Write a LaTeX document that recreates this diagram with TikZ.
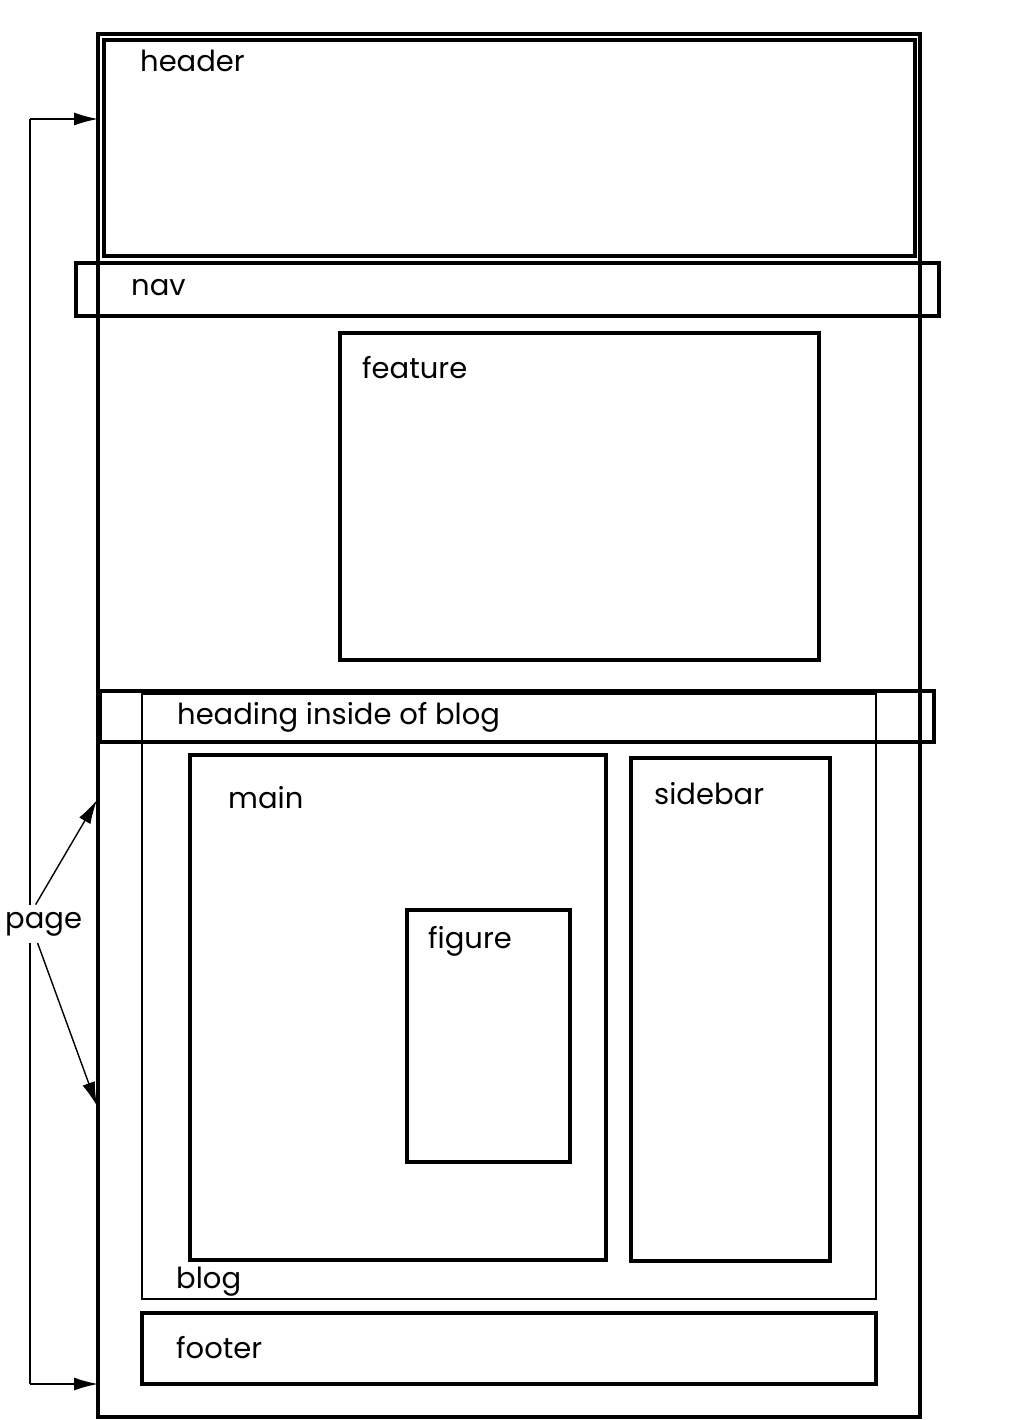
\documentclass[tikz,border=0pt]{standalone}
\usepackage{fontspec}
\setmainfont{Poppins}
\usetikzlibrary{arrows.meta}
\tikzset{
  box/.style={line width=3.5pt},
  thinbox/.style={line width=2.2pt},
  lbl/.style={anchor=base west, inner sep=0pt, font=\fontsize{29}{32}\selectfont},
  pointer/.style={line width=1.4pt, -{Latex[length=24pt, width=13pt]}}
}
\begin{document}
\begin{tikzpicture}[x=1pt, y=-1pt]
    \useasboundingbox (0,0) rectangle (1020,1420);
    % page and the parts in it
    \draw[box] (98,34) rectangle (920,1417);
    \draw[box] (104,40) rectangle (915,256);
    \draw[box] (76,263) rectangle (939,316);
    \draw[box] (340,333) rectangle (819,660);
    \draw[thinbox] (142,694) rectangle (876,1299);
    \draw[box] (100,691) rectangle (934,742);
    \draw[box] (190,755) rectangle (606,1260);
    \draw[box] (631,758) rectangle (830,1261);
    \draw[box] (407,910) rectangle (570,1162);
    \draw[box] (142,1313) rectangle (876,1384);
    % labels, baseline at y
    \foreach \name/\x/\y in {header/140/72, nav/131/295, feature/362/378,
        main/228/808, sidebar/654/804, figure/428/948, blog/176/1288, footer/176/1358}{
        \node[lbl] (\name) at (\x,\y) {\name};
    }
    \node[lbl] (heading) at (177,724) {heading inside of blog};
    % page bracket
    \coordinate (top) at (98,119);
    \coordinate (bottom) at (98,1384);
    \coordinate (upper) at (97,800);
    \coordinate (lower) at (97,1106);
    \draw[line width=1.4pt] (30,119) -- (30,1384);
    \node[lbl, fill=white, inner ysep=7pt] (page) at (5,928) {page};
    \draw[pointer] (30,119) -- (top);
    \draw[pointer] (30,1384) -- (bottom);
    \draw[pointer] ([xshift=-8pt]page.north) -- (upper);
    \draw[pointer] ([xshift=-6pt]page.south) -- (lower);
\end{tikzpicture}
\end{document}
